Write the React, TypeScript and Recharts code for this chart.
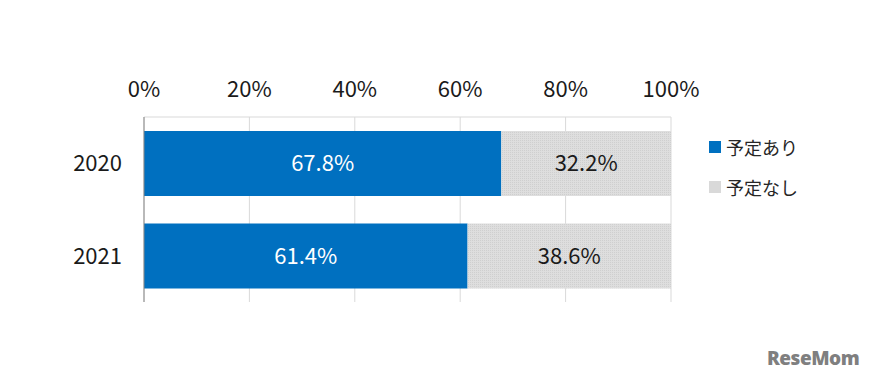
import React from 'react';
import { BarChart, Bar, XAxis, YAxis, CartesianGrid, LabelList, Legend } from 'recharts';

const categories = ['2020', '2021'];
const yesValues = [67.8, 61.4];
const noValues = [32.2, 38.6];
const xTicks = [0, 20, 40, 60, 80, 100];
const seriesNames = ['予定あり', '予定なし'];
const colors = ['#0070c0', '#d9d9d9'];

const data = categories.map((c, i) => ({ year: c, yes: yesValues[i], no: noValues[i] }));

const FONT = '"Noto Sans CJK JP", "Noto Sans", sans-serif';

const LegendContent = () => (
  <div style={{ fontFamily: FONT, fontSize: 18, color: '#262626' }}>
    {seriesNames.map((n, i) => (
      <div key={n} style={{ display: 'flex', alignItems: 'center', height: 40 }}>
        <span style={{ display: 'inline-block', width: 12, height: 12, background: colors[i], marginRight: 5 }} />
        <span>{n}</span>
      </div>
    ))}
  </div>
);

export default function App() {
  return (
    <div style={{ position: 'absolute', left: 0, top: 0, width: 878, height: 389, background: '#fff' }}>
      <BarChart
        width={878}
        height={389}
        data={data}
        layout="vertical"
        margin={{ top: 0, right: 87, bottom: 87, left: 0 }}
        barSize={65}
      >
        <defs>
          <pattern id="dots" width="2" height="2" patternUnits="userSpaceOnUse">
            <rect width="2" height="2" fill="#dedede" />
            <rect width="1" height="1" fill="#cfcfcf" />
          </pattern>
        </defs>
        <CartesianGrid horizontal={false} vertical stroke="#d9d9d9" />
        <XAxis
          type="number"
          orientation="top"
          domain={[0, 100]}
          ticks={xTicks}
          tickFormatter={(v) => `${v}%`}
          height={117}
          axisLine={{ stroke: '#d9d9d9' }}
          tickLine={false}
          tickSize={0}
          tickMargin={20}
          tick={{ fill: '#1a1a1a', fontSize: 22, fontFamily: FONT }}
          interval={0}
        />
        <YAxis
          type="category"
          dataKey="year"
          width={144}
          axisLine={{ stroke: '#868686' }}
          tickLine={false}
          tickSize={0}
          tickMargin={22}
          tick={{ fill: '#1a1a1a', fontSize: 22, fontFamily: FONT }}
        />
        <Legend
          layout="vertical"
          align="right"
          verticalAlign="top"
          wrapperStyle={{ left: 709, top: 127, width: 120 }}
          content={<LegendContent />}
        />
        <Bar dataKey="yes" stackId="a" fill={colors[0]} isAnimationActive={false} name={seriesNames[0]}>
          <LabelList
            dataKey="yes"
            position="center"
            formatter={(v: number) => `${v.toFixed(1)}%`}
            fill="#ffffff"
            style={{ fontSize: 22, fontFamily: FONT }}
          />
        </Bar>
        <Bar dataKey="no" stackId="a" fill="url(#dots)" isAnimationActive={false} name={seriesNames[1]}>
          <LabelList
            dataKey="no"
            position="center"
            formatter={(v: number) => `${v.toFixed(1)}%`}
            fill="#1a1a1a"
            style={{ fontSize: 22, fontFamily: FONT }}
          />
        </Bar>
      </BarChart>
      <div
        style={{
          position: 'absolute',
          left: 767,
          top: 345,
          fontFamily: '"Open Sans", sans-serif',
          fontWeight: 800,
          fontSize: 19,
          color: '#7f7f7f',
          letterSpacing: -0.5,
        }}
      >
        ReseMom
      </div>
    </div>
  );
}
